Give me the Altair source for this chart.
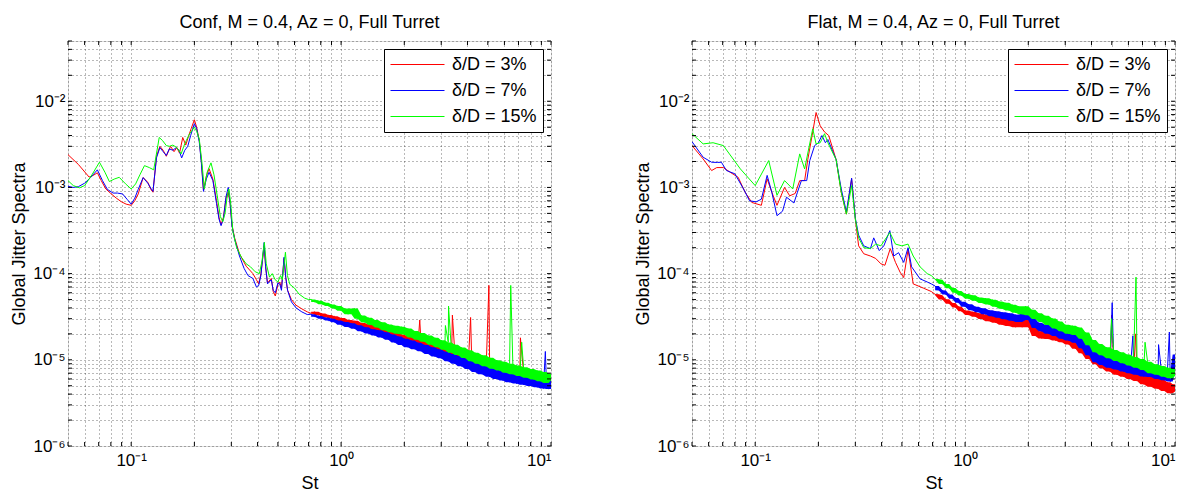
import altair as alt
import pandas as pd

# ---------------- text ----------------
series_names = ["δ/D = 3%", "δ/D = 7%", "δ/D = 15%"]
series_colors = ["#ff0000", "#0000ff", "#00ff00"]
panel_titles = ["Conf, M = 0.4, Az = 0, Full Turret", "Flat, M = 0.4, Az = 0, Full Turret"]
x_title = "St"
y_title = "Global Jitter Spectra"

x_decades = [0.1, 1, 10]
x_decade_labels = ["10⁻¹", "10⁰", "10¹"]
y_decades = [1e-6, 1e-5, 1e-4, 1e-3, 1e-2]
y_decade_labels = ["10⁻⁶", "10⁻⁵", "10⁻⁴", "10⁻³", "10⁻²"]
x_domain = [0.05, 10]
y_domain = [1e-6, 0.05]
x_grid = [0.05, 0.06, 0.07, 0.08, 0.09, 0.1, 0.2, 0.3, 0.4, 0.5, 0.6, 0.7, 0.8, 0.9,
          1, 2, 3, 4, 5, 6, 7, 8, 9, 10]
y_grid = [1e-6, 2e-6, 3e-6, 4e-6, 5e-6, 6e-6, 7e-6, 8e-6, 9e-6,
          1e-5, 2e-5, 3e-5, 4e-5, 5e-5, 6e-5, 7e-5, 8e-5, 9e-5,
          1e-4, 2e-4, 3e-4, 4e-4, 5e-4, 6e-4, 7e-4, 8e-4, 9e-4,
          1e-3, 2e-3, 3e-3, 4e-3, 5e-3, 6e-3, 7e-3, 8e-3, 9e-3,
          1e-2, 2e-2, 3e-2, 4e-2, 5e-2]

# ---------------- data ----------------
# shared St grid for the broadband (noisy) part of every curve
st_hi = [0.72, 0.75, 0.78, 0.81, 0.84, 0.87, 0.9, 0.93, 0.96, 1.0,
         1.04, 1.08, 1.12, 1.16, 1.2, 1.25, 1.3, 1.35, 1.4, 1.45,
         1.5, 1.56, 1.62, 1.68, 1.74, 1.8, 1.87, 1.94, 2.0, 2.08,
         2.16, 2.24, 2.32, 2.4, 2.5, 2.6, 2.7, 2.8, 2.9, 3.0,
         3.12, 3.24, 3.36, 3.48, 3.6, 3.75, 3.9, 4.05, 4.2, 4.35,
         4.5, 4.7, 4.9, 5.1, 5.3, 5.5, 5.7, 5.9, 6.1, 6.35,
         6.6, 6.85, 7.1, 7.4, 7.7, 8.0, 8.3, 8.6, 8.9, 9.2,
         9.5, 9.75, 10.0]

# ---- Conf panel ----
conf_red_lo = [(0.05, 2.4e-3), (0.056, 1.85e-3), (0.063, 1.32e-3), (0.066, 1.38e-3), (0.069, 1.48e-3),
               (0.072, 1.2e-3), (0.0757, 9.6e-4), (0.08, 8.5e-4), (0.085, 7.5e-4), (0.09, 6.8e-4),
               (0.0946, 6.4e-4), (0.1, 6.2e-4), (0.104, 7.0e-4), (0.108, 8.4e-4), (0.114, 1.3e-3),
               (0.12, 1.15e-3), (0.124, 9.5e-4), (0.127, 8.8e-4), (0.132, 2.3e-3), (0.137, 3.0e-3),
               (0.142, 2.7e-3), (0.147, 2.3e-3), (0.154, 3.0e-3), (0.16, 2.6e-3), (0.165, 2.9e-3),
               (0.17, 2.5e-3), (0.176, 3.8e-3), (0.182, 3.1e-3), (0.188, 4.0e-3), (0.193, 4.8e-3),
               (0.2, 6.1e-3), (0.205, 5.0e-3), (0.211, 3.5e-3), (0.216, 2.0e-3), (0.221, 9.3e-4),
               (0.228, 1.35e-3), (0.235, 1.65e-3), (0.245, 1.25e-3), (0.255, 7.0e-4), (0.262, 4.5e-4),
               (0.268, 3.7e-4), (0.275, 4.5e-4), (0.283, 7.5e-4), (0.29, 8.8e-4), (0.296, 6.5e-4),
               (0.302, 3.7e-4), (0.311, 2.6e-4), (0.328, 1.7e-4), (0.353, 1.22e-4), (0.38, 1.0e-4),
               (0.395, 8.5e-5), (0.405, 7.6e-5), (0.415, 1.0e-4), (0.43, 2.1e-4), (0.437, 1.2e-4),
               (0.446, 7.8e-5), (0.465, 8.8e-5), (0.475, 6.2e-5), (0.486, 5.5e-5), (0.5, 7.5e-5),
               (0.51, 8.0e-5), (0.52, 6.8e-5), (0.535, 1.5e-4), (0.545, 9.0e-5), (0.556, 6.4e-5),
               (0.58, 5.0e-5), (0.61, 4.3e-5), (0.65, 3.9e-5), (0.69, 3.6e-5)]
conf_blue_lo = [(0.05, 1.03e-3), (0.053, 1.0e-3), (0.056, 1.02e-3), (0.06, 1.12e-3), (0.064, 1.3e-3),
                (0.069, 1.6e-3), (0.073, 1.2e-3), (0.077, 9.5e-4), (0.082, 8.6e-4), (0.086, 8.6e-4),
                (0.091, 8.4e-4), (0.096, 7.2e-4), (0.1, 6.4e-4), (0.104, 7.5e-4), (0.108, 9.5e-4),
                (0.114, 1.3e-3), (0.12, 1.12e-3), (0.124, 9.8e-4), (0.127, 9.0e-4), (0.132, 2.2e-3),
                (0.137, 2.9e-3), (0.142, 2.6e-3), (0.147, 2.35e-3), (0.152, 2.8e-3), (0.158, 2.7e-3),
                (0.164, 2.9e-3), (0.169, 2.7e-3), (0.174, 2.2e-3), (0.18, 2.7e-3), (0.186, 3.0e-3),
                (0.192, 4.0e-3), (0.2, 5.5e-3), (0.205, 4.8e-3), (0.211, 3.4e-3), (0.216, 1.9e-3),
                (0.221, 9.0e-4), (0.228, 1.25e-3), (0.235, 1.5e-3), (0.245, 1.2e-3), (0.255, 6.5e-4),
                (0.262, 4.3e-4), (0.268, 3.6e-4), (0.275, 4.3e-4), (0.283, 7.8e-4), (0.29, 1.0e-3),
                (0.296, 6.6e-4), (0.302, 3.6e-4), (0.311, 2.5e-4), (0.328, 1.6e-4), (0.345, 1.15e-4),
                (0.36, 9.5e-5), (0.38, 8.8e-5), (0.395, 7.0e-5), (0.405, 7.3e-5), (0.415, 9.5e-5),
                (0.43, 2.3e-4), (0.437, 1.2e-4), (0.446, 7.6e-5), (0.465, 8.5e-5), (0.475, 6.4e-5),
                (0.486, 6.0e-5), (0.5, 7.8e-5), (0.51, 7.6e-5), (0.52, 6.4e-5), (0.535, 1.55e-4),
                (0.545, 9.0e-5), (0.556, 6.4e-5), (0.58, 4.7e-5), (0.61, 4.0e-5), (0.65, 3.6e-5),
                (0.69, 3.35e-5)]
conf_green_lo = [(0.05, 1.2e-3), (0.053, 1.05e-3), (0.0567, 9.9e-4), (0.06, 1.05e-3), (0.065, 1.4e-3),
                 (0.0706, 1.96e-3), (0.075, 1.5e-3), (0.0787, 1.17e-3), (0.083, 1.25e-3), (0.0877, 1.31e-3),
                 (0.094, 1.1e-3), (0.1, 9.6e-4), (0.105, 1.1e-3), (0.11, 1.4e-3), (0.1157, 1.79e-3),
                 (0.122, 1.7e-3), (0.128, 1.6e-3), (0.136, 3.8e-3), (0.141, 3.5e-3), (0.147, 3.06e-3),
                 (0.152, 3.0e-3), (0.158, 3.1e-3), (0.165, 2.9e-3), (0.173, 2.45e-3), (0.178, 3.0e-3),
                 (0.183, 3.5e-3), (0.19, 4.2e-3), (0.2, 5.0e-3), (0.205, 4.5e-3), (0.211, 3.65e-3),
                 (0.217, 2.0e-3), (0.223, 9.6e-4), (0.23, 1.5e-3), (0.24, 1.93e-3), (0.248, 1.4e-3),
                 (0.258, 7.5e-4), (0.266, 4.6e-4), (0.273, 4.0e-4), (0.28, 5.0e-4), (0.286, 7.5e-4),
                 (0.292, 9.6e-4), (0.298, 6.5e-4), (0.305, 3.1e-4), (0.318, 2.0e-4), (0.335, 1.55e-4),
                 (0.353, 1.3e-4), (0.37, 1.2e-4), (0.39, 1.05e-4), (0.408, 1.0e-4), (0.42, 1.4e-4),
                 (0.431, 2.3e-4), (0.44, 1.3e-4), (0.456, 9.1e-5), (0.47, 1.0e-4), (0.485, 8.5e-5),
                 (0.5, 8.0e-5), (0.515, 9.5e-5), (0.525, 8.5e-5), (0.543, 1.77e-4), (0.555, 9.5e-5),
                 (0.57, 7.5e-5), (0.6, 6.8e-5), (0.63, 5.8e-5), (0.67, 5.2e-5), (0.7, 5.0e-5)]
# broadband part, in units of 1e-5, one value per st_hi entry
conf_red_hi = [3.46, 3.6, 3.31, 3.45, 3.14, 3.3, 3.02, 3.2, 2.85, 3.05,
               2.66, 2.9, 2.51, 2.83, 2.36, 2.68, 2.24, 2.57, 2.09, 2.45,
               2.01, 2.35, 1.88, 2.23, 1.75, 2.08, 1.66, 1.96, 1.56, 1.85,
               1.48, 1.76, 1.4, 1.66, 1.3, 1.57, 1.22, 1.48, 1.16, 1.4,
               1.08, 1.31, 1.0, 1.23, 0.94, 1.15, 0.87, 1.08, 0.81, 1.02,
               0.76, 0.95, 0.7, 0.89, 0.67, 0.85, 0.64, 0.8, 0.61, 0.77,
               0.58, 0.75, 0.565, 0.72, 0.55, 0.695, 0.526, 0.67, 0.507, 0.653,
               0.498, 0.64, 0.53]
conf_blue_hi = [3.38, 3.16, 3.23, 3.0, 3.09, 2.85, 3.0, 2.73, 2.86, 2.56,
                2.74, 2.4, 2.65, 2.3, 2.51, 2.14, 2.39, 2.02, 2.27, 1.91,
                2.21, 1.82, 2.09, 1.71, 1.96, 1.59, 1.87, 1.49, 1.76, 1.4,
                1.67, 1.33, 1.58, 1.26, 1.49, 1.17, 1.4, 1.09, 1.33, 1.04,
                1.24, 0.96, 1.17, 0.9, 1.11, 0.84, 1.03, 0.78, 0.97, 0.72,
                0.92, 0.68, 0.85, 0.635, 0.8, 0.6, 0.77, 0.575, 0.735, 0.55,
                0.7, 0.53, 0.68, 0.513, 0.655, 0.496, 0.633, 0.479, 0.61, 0.465,
                0.6, 0.457, 0.57]
conf_green_hi = [5.02, 4.68, 4.84, 4.41, 4.6, 4.2, 4.37, 3.93, 4.2, 3.7,
                 3.95, 3.38, 3.7, 3.95, 3.0, 3.26, 2.71, 3.08, 2.53, 2.89,
                 2.37, 2.73, 2.2, 2.57, 2.09, 2.48, 2.0, 2.42, 1.96, 2.31,
                 1.82, 2.16, 1.71, 2.04, 1.62, 1.91, 1.5, 1.8, 1.4, 1.69,
                 1.31, 1.59, 1.21, 1.5, 1.14, 1.39, 1.05, 1.29, 0.96, 1.21,
                 0.9, 1.13, 0.84, 1.06, 0.79, 0.99, 0.75, 0.95, 0.71, 0.9,
                 0.68, 0.86, 0.65, 0.82, 0.62, 0.78, 0.59, 0.75, 0.565, 0.72,
                 0.54, 0.69, 0.58]
conf_red_spikes = [(2.37, 2.9e-5), (3.39, 3.3e-5), (4.14, 3.1e-5), (5.06, 7.3e-5), (7.15, 1.8e-5)]
conf_blue_spikes = [(9.4, 1.25e-5)]
conf_green_spikes = [(3.14, 2.5e-5), (3.25, 4.2e-5), (6.43, 7.3e-5), (7.25, 1.6e-5)]

# ---- Flat panel ----
flat_red_lo = [(0.05, 3.06e-3), (0.0565, 2.14e-3), (0.062, 1.57e-3), (0.0656, 1.7e-3), (0.0705, 1.7e-3),
               (0.076, 1.5e-3), (0.083, 1.31e-3), (0.0895, 8.8e-4), (0.0963, 6.7e-4), (0.107, 6.2e-4),
               (0.114, 1.26e-3), (0.12, 8.8e-4), (0.127, 6.2e-4), (0.138, 1.0e-3), (0.146, 8.0e-4),
               (0.155, 8.5e-4), (0.163, 1.2e-3), (0.172, 1.2e-3), (0.178, 2.1e-3), (0.188, 4.4e-3),
               (0.195, 7.4e-3), (0.204, 5.2e-3), (0.214, 4.4e-3), (0.224, 4.0e-3), (0.243, 2.1e-3),
               (0.257, 8.8e-4), (0.272, 4.9e-4), (0.288, 1.26e-3), (0.3, 4.3e-4), (0.311, 2.1e-4),
               (0.329, 1.7e-4), (0.354, 1.6e-4), (0.375, 1.5e-4), (0.397, 1.3e-4), (0.415, 1.25e-4),
               (0.44, 1.95e-4), (0.466, 1.35e-4), (0.49, 1.04e-4), (0.51, 9.0e-5), (0.535, 1.9e-4),
               (0.566, 7.6e-5), (0.632, 6.8e-5), (0.69, 6.2e-5)]
flat_blue_lo = [(0.05, 3.4e-3), (0.0565, 2.24e-3), (0.062, 1.96e-3), (0.066, 1.95e-3), (0.069, 1.96e-3),
                (0.073, 1.57e-3), (0.08, 1.44e-3), (0.088, 9.6e-4), (0.094, 7.0e-4), (0.101, 6.8e-4),
                (0.107, 7.3e-4), (0.114, 1.38e-3), (0.12, 8.8e-4), (0.127, 4.7e-4), (0.135, 5.3e-4),
                (0.141, 7.7e-4), (0.153, 6.6e-4), (0.159, 8.8e-4), (0.166, 1.2e-3), (0.176, 1.2e-3),
                (0.182, 2.05e-3), (0.192, 3.06e-3), (0.2, 3.3e-3), (0.208, 4.0e-3), (0.216, 3.3e-3),
                (0.222, 3.6e-3), (0.243, 2.1e-3), (0.257, 9.6e-4), (0.272, 5.2e-4), (0.288, 1.28e-3),
                (0.3, 4.4e-4), (0.311, 2.8e-4), (0.329, 2.1e-4), (0.354, 1.95e-4), (0.367, 2.6e-4),
                (0.39, 1.85e-4), (0.41, 2.1e-4), (0.438, 3.15e-4), (0.457, 1.6e-4), (0.482, 1.75e-4),
                (0.51, 1.35e-4), (0.535, 2.0e-4), (0.556, 1.2e-4), (0.61, 8.7e-5), (0.66, 8.0e-5),
                (0.69, 7.6e-5)]
flat_green_lo = [(0.05, 4.2e-3), (0.0565, 3.2e-3), (0.063, 3.3e-3), (0.0705, 3.06e-3), (0.085, 1.64e-3),
                 (0.1, 1.05e-3), (0.116, 2.05e-3), (0.127, 8.1e-4), (0.138, 1.2e-3), (0.151, 9.6e-4),
                 (0.163, 2.45e-3), (0.172, 1.64e-3), (0.188, 4.8e-3), (0.195, 3.2e-3), (0.204, 3.3e-3),
                 (0.214, 4.2e-3), (0.222, 3.3e-3), (0.243, 2.1e-3), (0.257, 8.8e-4), (0.272, 4.9e-4),
                 (0.288, 1.05e-3), (0.3, 4.3e-4), (0.311, 2.6e-4), (0.329, 2.0e-4), (0.354, 1.95e-4),
                 (0.375, 2.2e-4), (0.397, 2.1e-4), (0.438, 3.0e-4), (0.466, 2.2e-4), (0.5, 2.1e-4),
                 (0.535, 2.2e-4), (0.566, 1.6e-4), (0.61, 1.2e-4), (0.66, 1.0e-4), (0.69, 9.5e-5)]
flat_red_hi = [5.75, 5.6, 5.0, 5.05, 4.47, 4.55, 4.05, 4.15, 3.66, 3.74,
               3.3, 3.62, 3.15, 3.47, 2.98, 3.34, 2.81, 3.22, 2.69, 3.08,
               2.55, 3.0, 2.46, 2.92, 2.39, 2.88, 2.39, 3.08, 2.39, 2.59,
               1.89, 2.15, 1.77, 2.16, 1.74, 2.13, 1.67, 2.05, 1.6, 1.95,
               1.51, 1.81, 1.34, 1.62, 1.19, 1.41, 1.02, 1.2, 0.89, 1.1,
               0.8, 0.99, 0.73, 0.9, 0.67, 0.85, 0.635, 0.8, 0.6, 0.76,
               0.566, 0.7, 0.52, 0.655, 0.487, 0.616, 0.461, 0.582, 0.435, 0.548,
               0.409, 0.52, 0.43]
flat_blue_hi = [7.18, 6.43, 6.39, 5.72, 5.72, 5.1, 5.2, 4.58, 4.72, 4.12,
                4.4, 3.75, 4.13, 3.57, 3.96, 3.37, 3.76, 3.2, 3.67, 3.08,
                3.56, 2.96, 3.47, 2.84, 3.34, 2.75, 3.36, 3.45, 2.9, 3.02,
                2.34, 2.7, 2.14, 2.55, 2.01, 2.44, 1.89, 2.28, 1.76, 2.13,
                1.67, 2.08, 1.58, 1.88, 1.36, 1.59, 1.13, 1.3, 0.94, 1.18,
                0.87, 1.1, 0.81, 1.03, 0.77, 0.97, 0.73, 0.93, 0.7, 0.89,
                0.67, 0.85, 0.64, 0.82, 0.63, 0.8, 0.6, 0.77, 0.58, 0.74,
                0.56, 0.72, 1.15]
flat_green_hi = [8.58, 8.5, 7.57, 7.6, 6.75, 6.8, 6.0, 6.3, 5.57, 5.8,
                 5.12, 5.6, 4.84, 5.3, 4.56, 5.19, 4.37, 4.99, 4.14, 4.75,
                 3.91, 4.58, 3.73, 4.36, 3.51, 4.18, 3.38, 4.18, 3.29, 3.8,
                 2.97, 3.47, 2.75, 3.25, 2.54, 3.02, 2.31, 2.78, 2.14, 2.55,
                 2.0, 2.49, 1.94, 2.37, 1.76, 2.07, 1.48, 1.7, 1.22, 1.53,
                 1.13, 1.4, 1.04, 1.3, 0.97, 1.22, 0.91, 1.15, 0.86, 1.08,
                 0.81, 1.02, 0.76, 0.95, 0.7, 0.89, 0.67, 0.85, 0.635, 0.81,
                 0.61, 0.78, 0.65]
flat_red_spikes = [(5.0, 3.3e-5), (6.5, 2.0e-5)]
flat_blue_spikes = [(5.02, 4.6e-5), (6.3, 1.9e-5), (8.35, 1.5e-5), (9.4, 2.1e-5)]
flat_green_spikes = [(4.98, 3.0e-5), (6.52, 9.1e-5), (7.2, 1.6e-5)]

# ---------------- assemble ----------------
def line_frame(lo, hi_e5, spikes):
    rows = list(lo) + [(s, v * 1e-5) for s, v in zip(st_hi, hi_e5)] + list(spikes)
    return pd.DataFrame(rows, columns=["st", "val"]).sort_values("st").reset_index(drop=True)


def band_frame(hi_e5):
    # envelope of the noisy broadband part: local min / max of the read values
    s = pd.Series([v * 1e-5 for v in hi_e5])
    return pd.DataFrame({
        "st": st_hi,
        "lo": s.rolling(3, center=True, min_periods=1).min(),
        "hi": s.rolling(3, center=True, min_periods=1).max(),
    })


conf_sets = [(conf_red_lo, conf_red_hi, conf_red_spikes),
             (conf_blue_lo, conf_blue_hi, conf_blue_spikes),
             (conf_green_lo, conf_green_hi, conf_green_spikes)]
flat_sets = [(flat_red_lo, flat_red_hi, flat_red_spikes),
             (flat_blue_lo, flat_blue_hi, flat_blue_spikes),
             (flat_green_lo, flat_green_hi, flat_green_spikes)]

FONT = "Liberation Sans"
W, H = 483, 405


def label_expr(decades, labels):
    parts = []
    for d, lab in zip(decades, labels):
        parts.append(f"abs(log(datum.value) - log({d})) < 0.001 ? '{lab}'")
    return " : ".join(parts) + " : ''"


XS = alt.Scale(type="log", domain=x_domain, nice=False)
YS = alt.Scale(type="log", domain=y_domain, nice=False)
X_AXIS = alt.Axis(
    title=x_title, values=x_grid, labelExpr=label_expr(x_decades, x_decade_labels),
    labelOverlap=False, ticks=False, domain=False,
    grid=True, gridDash=[1, 3], gridColor="#000000", gridOpacity=0.55,
    labelFontSize=17, titleFontSize=18, labelFont=FONT, titleFont=FONT,
    labelColor="black", titleColor="black", titleFontWeight="normal",
    labelPadding=6, titlePadding=6)
Y_AXIS = alt.Axis(
    title=y_title, values=y_grid, labelExpr=label_expr(y_decades, y_decade_labels),
    labelOverlap=False, ticks=False, domain=False,
    grid=True, gridDash=[1, 3], gridColor="#000000", gridOpacity=0.55,
    labelFontSize=17, titleFontSize=18, labelFont=FONT, titleFont=FONT,
    labelColor="black", titleColor="black", titleFontWeight="normal",
    labelPadding=3, titlePadding=4)


def X(field="st"):
    return alt.X(f"{field}:Q", scale=XS, axis=X_AXIS)


def Y(field="val"):
    return alt.Y(f"{field}:Q", scale=YS, axis=Y_AXIS)


LEGEND = alt.Legend(title=None, orient="top-right", offset=8,
                    fillColor="white", strokeColor="black", padding=6,
                    symbolType="stroke", symbolSize=2916, symbolStrokeWidth=1,
                    clipHeight=19, rowPadding=7,
                    labelFontSize=18, labelFont=FONT, labelColor="black",
                    labelOffset=7, cornerRadius=0)


def panel(sets, title):
    layers = []
    for (lo, hi, spikes), name, col in zip(sets, series_names, series_colors):
        band = alt.Chart(band_frame(hi)).mark_area(color=col, opacity=1, clip=True).encode(
            x=X(), y=Y("lo"), y2="hi:Q")
        ldf = line_frame(lo, hi, spikes)
        ldf["series"] = name
        line = alt.Chart(ldf).mark_line(strokeWidth=1, clip=True).encode(
            x=X(), y=Y(),
            color=alt.Color("series:N", scale=alt.Scale(domain=series_names, range=series_colors),
                            legend=LEGEND))
        layers += [band, line]
    xt = pd.DataFrame({"st": x_grid})
    yt = pd.DataFrame({"val": y_grid})
    tick = dict(color="black", strokeWidth=1)
    layers += [
        alt.Chart(xt).mark_rule(**tick).encode(x=X(), y=alt.value(H), y2=alt.value(H - 4)),
        alt.Chart(xt).mark_rule(**tick).encode(x=X(), y=alt.value(0), y2=alt.value(4)),
        alt.Chart(yt).mark_rule(**tick).encode(y=Y(), x=alt.value(0), x2=alt.value(4)),
        alt.Chart(yt).mark_rule(**tick).encode(y=Y(), x=alt.value(W), x2=alt.value(W - 4)),
    ]
    return alt.layer(*layers).properties(
        width=W, height=H,
        title=alt.TitleParams(title, fontSize=18, fontWeight="normal", font=FONT,
                              color="black", offset=0, anchor="middle"),
    )


chart = alt.hconcat(panel(conf_sets, panel_titles[0]), panel(flat_sets, panel_titles[1]), spacing=82)
chart = chart.resolve_scale(color="independent").resolve_legend(color="independent")
chart = chart.properties(padding={"left": 2, "top": 5, "right": 2, "bottom": 2}).configure_view(
    stroke="black", strokeWidth=1).configure(background="white")

chart.save("out.html", embed_options={"renderer": "svg", "actions": False})
